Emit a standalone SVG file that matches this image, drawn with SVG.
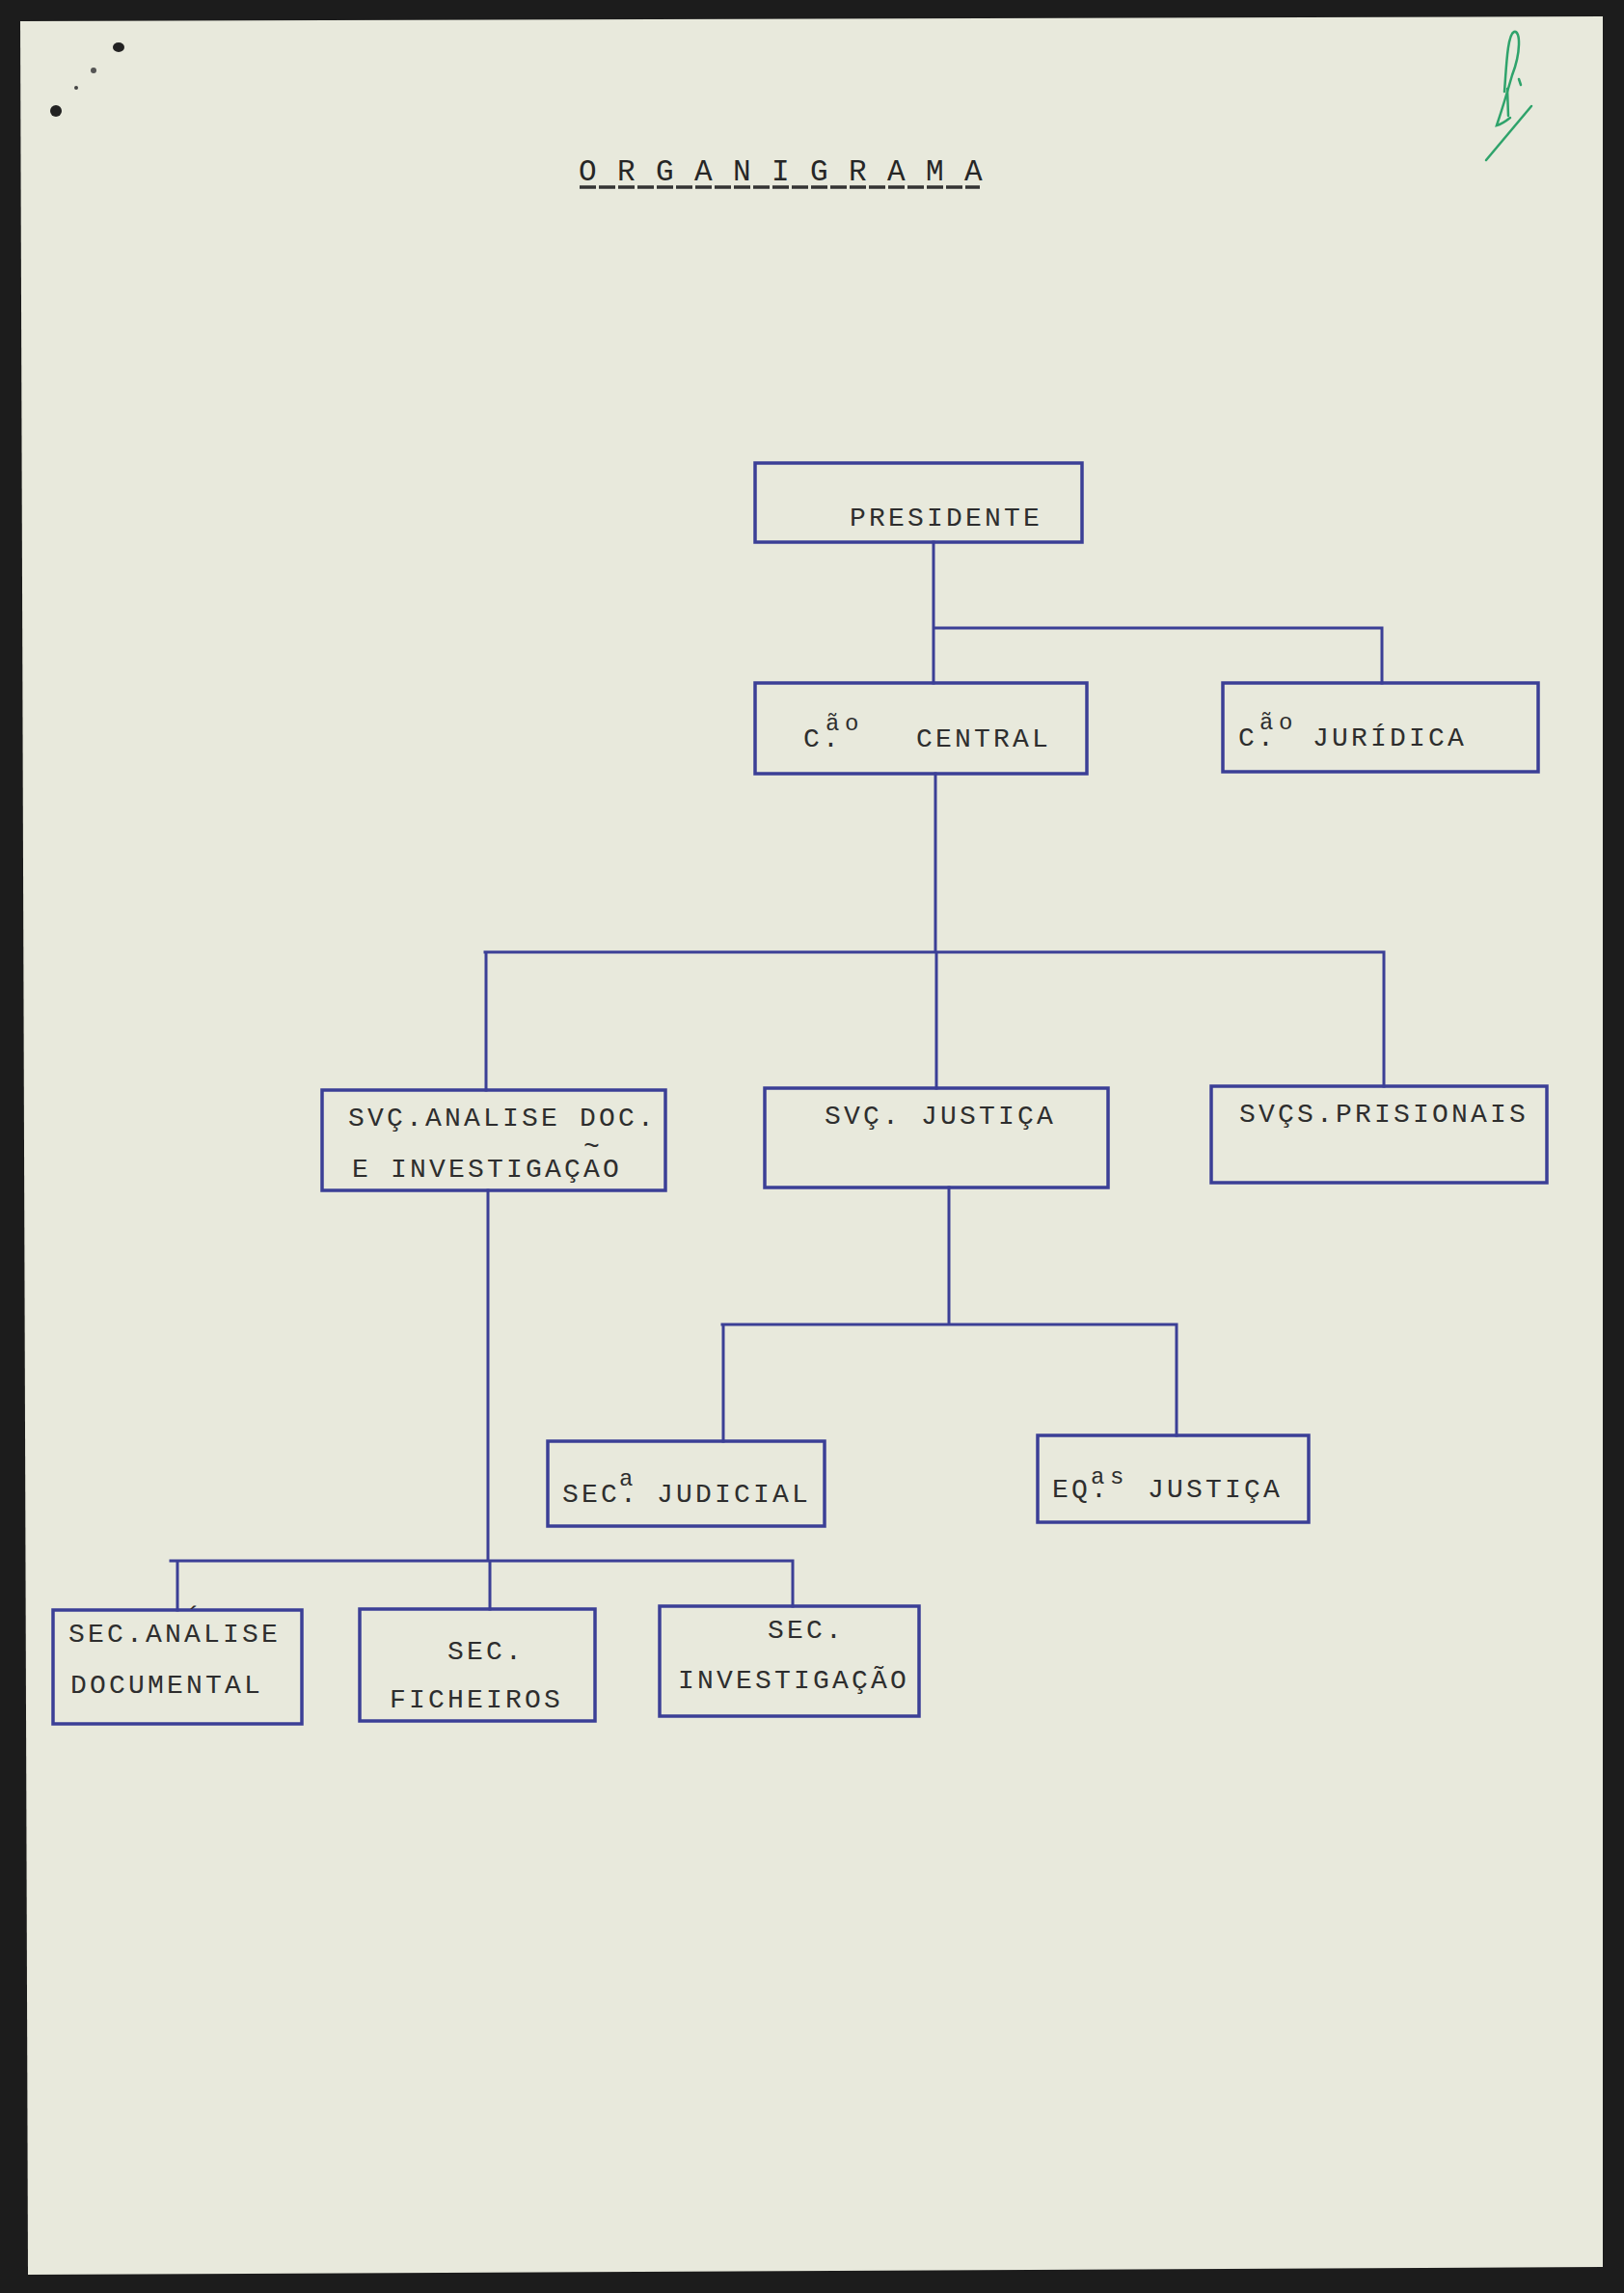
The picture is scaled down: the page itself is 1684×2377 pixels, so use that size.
<svg xmlns="http://www.w3.org/2000/svg" width="1684" height="2377" viewBox="0 0 1684 2377">
<style>
.box{fill:none;stroke:#3b3f96;stroke-width:3.5}
.ln{fill:none;stroke:#3b3f96;stroke-width:3;stroke-linecap:square}
.t{font-family:"Liberation Mono","Courier New",monospace;font-size:28px;letter-spacing:3.2px;fill:#2e2e2e}
.s{font-size:24px;letter-spacing:5.6px}
.ti{font-family:"Liberation Mono","Courier New",monospace;font-size:31px;letter-spacing:1.4px;fill:#262626}
</style>
<rect x="0" y="0" width="1684" height="2377" fill="#1c1c1c"/>
<polygon points="21,22 1662,17 1662,2350 29,2358" fill="#e8e9dc"/>
<g id="marks">
<ellipse cx="123" cy="49" rx="6" ry="5" fill="#222"/>
<circle cx="97" cy="73" r="3" fill="#555"/>
<circle cx="79" cy="91" r="2" fill="#444"/>
<ellipse cx="58" cy="115" rx="6" ry="6" fill="#222"/>
<g fill="none" stroke="#2fa36b" stroke-width="2.5" stroke-linecap="round">
<path d="M1560 95 C1562 70 1563 36 1570 33 C1577 31 1577 55 1568 78 C1564 92 1558 112 1552 130 C1556 129 1561 126 1566 122"/>
<path d="M1563 92 L1564 120"/>
<path d="M1575 82 L1577 88"/>
<path d="M1588 110 L1541 166"/>
</g>
</g>
<g id="title">
<text class="ti" x="600" y="187">O R G A N I G R A M A</text>
<line x1="601" y1="194" x2="1016" y2="194" stroke="#333" stroke-width="3.5" stroke-dasharray="17 3"/>
</g>
<g id="connectors">
<path class="ln" d="M968 562 V708 M968 651 H1433 V708"/>
<path class="ln" d="M970 802 V987 M503 987 H1434 M504 987 V1130 M971 987 V1128 M1435 987 V1126"/>
<path class="ln" d="M984 1231 V1373 M749 1373 H1220 M750 1373 V1494 M1220 1373 V1488"/>
<path class="ln" d="M506 1234 V1618 M177 1618 H822 M184 1618 V1669 M508 1618 V1668 M822 1618 V1665"/>
</g>
<g id="presidente">
<rect class="box" x="783" y="480" width="339" height="82"/>
<text class="t" x="881" y="545">PRESIDENTE</text>
</g>
<g id="cao-central">
<rect class="box" x="783" y="708" width="344" height="94"/>
<text class="t" x="833" y="774">C.<tspan class="s" x="856" y="757">ão</tspan><tspan x="950" y="774">CENTRAL</tspan></text>
</g>
<g id="cao-juridica">
<rect class="box" x="1268" y="708" width="327" height="92"/>
<text class="t" x="1284" y="773">C.<tspan class="s" x="1306" y="756">ão</tspan><tspan x="1361" y="773">JURÍDICA</tspan></text>
</g>
<g id="svc-analise">
<rect class="box" x="334" y="1130" width="356" height="104"/>
<text class="t" x="361" y="1167">SVÇ.ANALISE DOC.</text>
<text class="t" x="605" y="1197">~<tspan x="365" y="1220">E INVESTIGAÇAO</tspan></text>
</g>
<g id="svc-justica">
<rect class="box" x="793" y="1128" width="356" height="103"/>
<text class="t" x="855" y="1165">SVÇ. JUSTIÇA</text>
</g>
<g id="svcs-prisionais">
<rect class="box" x="1256" y="1126" width="348" height="100"/>
<text class="t" x="1285" y="1163">SVÇS.PRISIONAIS</text>
</g>
<g id="seca-judicial">
<rect class="box" x="568" y="1494" width="287" height="88"/>
<text class="t" x="583" y="1557">SEC.<tspan class="s" x="642" y="1540">a</tspan><tspan x="681" y="1557">JUDICIAL</tspan></text>
</g>
<g id="eqas-justica">
<rect class="box" x="1076" y="1488" width="281" height="90"/>
<text class="t" x="1091" y="1552">EQ.<tspan class="s" x="1131" y="1538">as</tspan><tspan x="1190" y="1552">JUSTIÇA</tspan></text>
</g>
<g id="sec-analise-documental">
<rect class="box" x="55" y="1669" width="258" height="118"/>
<text class="t" x="192" y="1684">´<tspan x="71" y="1702">SEC.ANALISE</tspan></text>
<text class="t" x="73" y="1755">DOCUMENTAL</text>
</g>
<g id="sec-ficheiros">
<rect class="box" x="373" y="1668" width="244" height="116"/>
<text class="t" x="464" y="1720">SEC.</text>
<text class="t" x="404" y="1770">FICHEIROS</text>
</g>
<g id="sec-investigacao">
<rect class="box" x="684" y="1665" width="269" height="114"/>
<text class="t" x="796" y="1698">SEC.</text>
<text class="t" x="703" y="1750">INVESTIGAÇÃO</text>
</g>
</svg>
